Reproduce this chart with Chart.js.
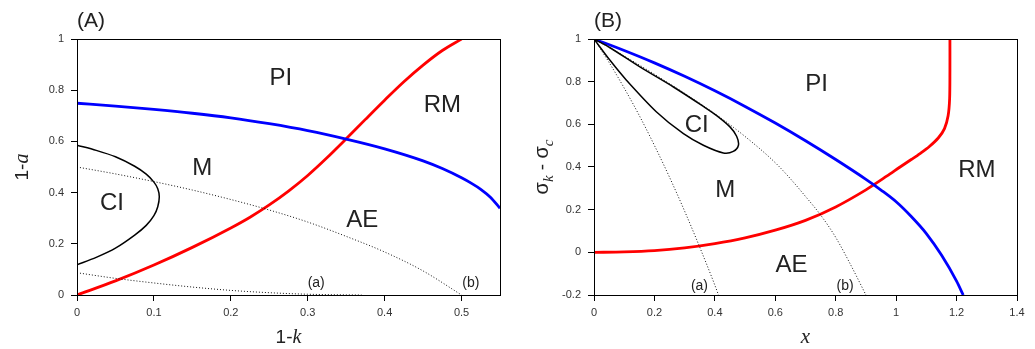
<!DOCTYPE html>
<html>
<head>
<meta charset="utf-8">
<script src="https://cdn.jsdelivr.net/npm/chart.js@4.4.1/dist/chart.umd.min.js"></script>
<style>
  html, body { margin: 0; padding: 0; background: #fff; }
  #wrap { position: relative; width: 1035px; height: 349px; }
  .panel { position: absolute; top: 0; height: 349px; }
  #pa { left: 0; width: 515px; }
  #pb { left: 515px; width: 520px; }
</style>
</head>
<body>
<div id="wrap">
  <div class="panel" id="pa"><canvas id="ca" width="515" height="349"></canvas></div>
  <div class="panel" id="pb"><canvas id="cb" width="520" height="349"></canvas></div>
</div>
<script>
// ---- Panel (A): boundaries in the (1-k, 1-a) plane ----
const aBlue = [[0,0.749],[0.05,0.738],[0.1,0.725],[0.15,0.710],[0.2,0.692],[0.25,0.669],[0.3,0.642],
  [0.35,0.609],[0.4,0.571],[0.45,0.524],[0.475,0.494],[0.5,0.458],[0.5125,0.437],[0.525,0.413],
  [0.5375,0.382],[0.55,0.339]];
const aRed = [[0,0],[0.05,0.055],[0.1,0.117],[0.15,0.186],[0.2,0.262],[0.225,0.304],[0.25,0.352],
  [0.275,0.406],[0.3,0.467],[0.325,0.536],[0.35,0.610],[0.375,0.686],[0.4,0.761],[0.425,0.833],
  [0.45,0.898],[0.475,0.955],[0.5,1.0]];
const aCI = [[0,0.585],[0.025,0.565],[0.05,0.540],[0.075,0.503],[0.09,0.472],[0.1,0.441],[0.105,0.415],
  [0.107,0.384],[0.105,0.345],[0.1,0.310],[0.09,0.272],[0.075,0.234],[0.05,0.183],[0.025,0.147],[0,0.118]];
const aDotB = [[0,0.5],[0.05,0.473],[0.1,0.443],[0.15,0.41],[0.2,0.373],[0.25,0.332],[0.3,0.285],
  [0.35,0.229],[0.4,0.168],[0.45,0.094],[0.5,0]];
const aDotA = [[0,0.087],[0.05,0.065],[0.1,0.047],[0.15,0.031],[0.2,0.018],[0.25,0.009],[0.3,0.003],
  [0.35,0.0005],[0.37,0]];
const aXTicks = [0, 0.1, 0.2, 0.3, 0.4, 0.5];
const aXTickLabels = ['0', '0.1', '0.2', '0.3', '0.4', '0.5'];
const aYTicks = [0, 0.2, 0.4, 0.6, 0.8, 1];
const aYTickLabels = ['0', '0.2', '0.4', '0.6', '0.8', '1'];
const aRegions = [['PI',0.265,0.852],['RM',0.475,0.748],['M',0.163,0.501],['CI',0.0455,0.367],['AE',0.371,0.30]];
const aCurveTags = [['(a)',0.311,0.047],['(b)',0.512,0.047]];

// ---- Panel (B): boundaries in the (x, sigma_k - sigma_c) plane ----
const bBlue = [[0,1],[0.1,0.946],[0.2,0.888],[0.3,0.825],[0.4,0.757],[0.5,0.684],[0.6,0.606],[0.7,0.523],
  [0.8,0.435],[0.9,0.342],[0.95,0.292],[1.0,0.237],[1.05,0.168],[1.1,0.088],[1.15,-0.013],[1.2,-0.135],[1.222,-0.2]];
const bRed = [[0,0],[0.1,0.002],[0.2,0.008],[0.3,0.021],[0.4,0.041],[0.5,0.068],[0.6,0.104],
  [0.7,0.15],[0.8,0.213],[0.9,0.293],[0.97,0.358],[1.013,0.40],
  [1.05,0.435],[1.079,0.463],[1.11,0.496],[1.14,0.537],[1.16,0.58],[1.172,0.64],[1.177,0.72],
  [1.178,0.85],[1.178,1.0]];
const bCI = [[0,1],[0.053,0.90],[0.108,0.806],[0.207,0.658],[0.296,0.556],[0.362,0.502],[0.428,0.466],
  [0.461,0.473],[0.478,0.502],[0.472,0.544],[0.450,0.588],[0.406,0.641],[0.362,0.684],[0.263,0.775],
  [0.152,0.869],[0.053,0.959],[0,1]];
const bDotA = [[0,1],[0.05,0.890],[0.1,0.770],[0.15,0.641],[0.2,0.501],[0.25,0.352],[0.3,0.193],
  [0.35,0.024],[0.4,-0.154],[0.412,-0.2]];
const bDotB = [[0,1],[0.1,0.92],[0.2,0.835],[0.3,0.745],[0.4,0.65],[0.5,0.543],[0.6,0.42],
  [0.65,0.345],[0.7,0.262],[0.75,0.175],[0.8,0.07],[0.85,-0.06],[0.9,-0.2]];
const bXTicks = [0, 0.2, 0.4, 0.6, 0.8, 1, 1.2, 1.4];
const bXTickLabels = ['0', '0.2', '0.4', '0.6', '0.8', '1', '1.2', '1.4'];
const bYTicks = [-0.2, 0, 0.2, 0.4, 0.6, 0.8, 1];
const bYTickLabels = ['-0.2', '0', '0.2', '0.4', '0.6', '0.8', '1'];
const bRegions = [['PI',0.737,0.798],['CI',0.340,0.603],['M',0.434,0.298],['RM',1.267,0.392],['AE',0.654,-0.052]];
const bCurveTags = [['(a)',0.349,-0.159],['(b)',0.831,-0.159]];

const SANS = '"Liberation Sans", Arial, sans-serif';
const SERIF = '"Liberation Serif", "Times New Roman", serif';

const pts = arr => arr.map(([x, y]) => ({x, y}));

// smooth: monotone spline for curves that are single-valued in x, bezier tension otherwise
function solid(data, color, width, mono) {
  return { data: pts(data), borderColor: color, borderWidth: width, showLine: true,
           pointRadius: 0, fill: false,
           cubicInterpolationMode: mono ? 'monotone' : 'default', tension: mono ? 0 : 0.3 };
}
function dotted(data) {
  return { data: pts(data), borderColor: '#111', borderWidth: 1, borderDash: [1, 2], showLine: true,
           pointRadius: 0, fill: false, cubicInterpolationMode: 'monotone' };
}

// draws a run of text pieces [text, font, dy] centred on (cx, cy); rotated if asked
function drawPieces(ctx, pieces, cx, cy, rotate) {
  ctx.save();
  ctx.translate(cx, cy);
  if (rotate) ctx.rotate(-Math.PI / 2);
  let total = 0;
  pieces.forEach(p => { ctx.font = p[1]; total += ctx.measureText(p[0]).width; });
  let x = -total / 2;
  ctx.textBaseline = 'alphabetic';
  ctx.textAlign = 'left';
  ctx.fillStyle = '#222';
  pieces.forEach(p => {
    ctx.font = p[1];
    ctx.fillText(p[0], x, p[2] || 0);
    x += ctx.measureText(p[0]).width;
  });
  ctx.restore();
}

function decorations(opts) {
  return {
    id: 'decorations',
    afterDraw(chart) {
      const {ctx, chartArea: a, scales: {x, y}} = chart;
      ctx.save();
      // frame round the plot area
      ctx.strokeStyle = '#000';
      ctx.lineWidth = 1;
      ctx.strokeRect(Math.round(a.left) + 0.5, Math.round(a.top) + 0.5,
                     Math.round(a.right - a.left), Math.round(a.bottom - a.top));
      // panel letter
      ctx.fillStyle = '#222';
      ctx.font = '21px ' + SANS;
      ctx.textAlign = 'left';
      ctx.textBaseline = 'alphabetic';
      ctx.fillText(opts.letter, a.left, 27);
      // region names
      ctx.textAlign = 'center';
      ctx.font = '24px ' + SANS;
      opts.regions.forEach(([t, vx, vy]) => {
        ctx.fillText(t, x.getPixelForValue(vx), y.getPixelForValue(vy) + 8.6);
      });
      // curve tags
      ctx.font = '14px ' + SANS;
      opts.tags.forEach(([t, vx, vy]) => {
        ctx.fillText(t, x.getPixelForValue(vx), y.getPixelForValue(vy) + 4);
      });
      ctx.restore();
      // axis titles
      drawPieces(ctx, opts.xTitle, (a.left + a.right) / 2, 343, false);
      drawPieces(ctx, opts.yTitle, opts.yTitleX, (a.top + a.bottom) / 2, true);
    }
  };
}

function axis(min, max, ticks, labels, isY, fixedSize) {
  return {
    type: 'linear', min, max,
    border: { display: false },
    grid: { display: true, drawOnChartArea: false, drawTicks: true, tickLength: 6, color: '#000' },
    ticks: {
      color: '#333', font: { family: SANS, size: 11 }, padding: isY ? 7 : 5,
      callback: (v) => { const i = ticks.findIndex(t => Math.abs(t - v) < 1e-9); return i >= 0 ? labels[i] : ''; },
      maxRotation: 0, autoSkip: false
    },
    afterBuildTicks: (s) => { s.ticks = ticks.map(v => ({value: v})); },
    afterFit: (s) => { if (isY) s.width = fixedSize; else s.height = fixedSize; }
  };
}

function makeChart(id, datasets, xAx, yAx, padRight, deco) {
  return new Chart(document.getElementById(id), {
    type: 'scatter',
    data: { datasets },
    options: {
      responsive: false,
      animation: false,
      layout: { padding: { top: 39, right: padRight, left: 0, bottom: 0 } },
      plugins: { legend: { display: false }, tooltip: { enabled: false } },
      scales: { x: xAx, y: yAx }
    },
    plugins: [deco]
  });
}

makeChart('ca',
  [dotted(aDotA), dotted(aDotB), solid(aCI, '#000', 1.5, false),
   solid(aBlue, '#0000ff', 2.8, true), solid(aRed, '#ff0000', 2.8, true)],
  axis(0, 0.55, aXTicks, aXTickLabels, false, 54),
  axis(0, 1, aYTicks, aYTickLabels, true, 77),
  15,
  decorations({
    letter: '(A)', regions: aRegions, tags: aCurveTags,
    xTitle: [['1-', '19px ' + SANS], ['k', 'italic 20px ' + SERIF]],
    yTitle: [['1-', '19px ' + SANS], ['a', 'italic 20px ' + SERIF]],
    yTitleX: 28
  }));

makeChart('cb',
  [dotted(bDotA), dotted(bDotB), solid(bCI, '#000', 1.5, false),
   solid(bBlue, '#0000ff', 2.8, true), solid(bRed, '#ff0000', 2.8, false)],
  axis(0, 1.4, bXTicks, bXTickLabels, false, 54),
  axis(-0.2, 1, bYTicks, bYTickLabels, true, 79),
  18,
  decorations({
    letter: '(B)', regions: bRegions, tags: bCurveTags,
    xTitle: [['x', 'italic 21px ' + SERIF]],
    yTitle: [['σ', '20px ' + SANS], ['k', 'italic 15px ' + SERIF, 5], [' - ', '19px ' + SANS],
             ['σ', '20px ' + SANS], ['c', 'italic 15px ' + SERIF, 5]],
    yTitleX: 33
  }));
</script>
</body>
</html>
